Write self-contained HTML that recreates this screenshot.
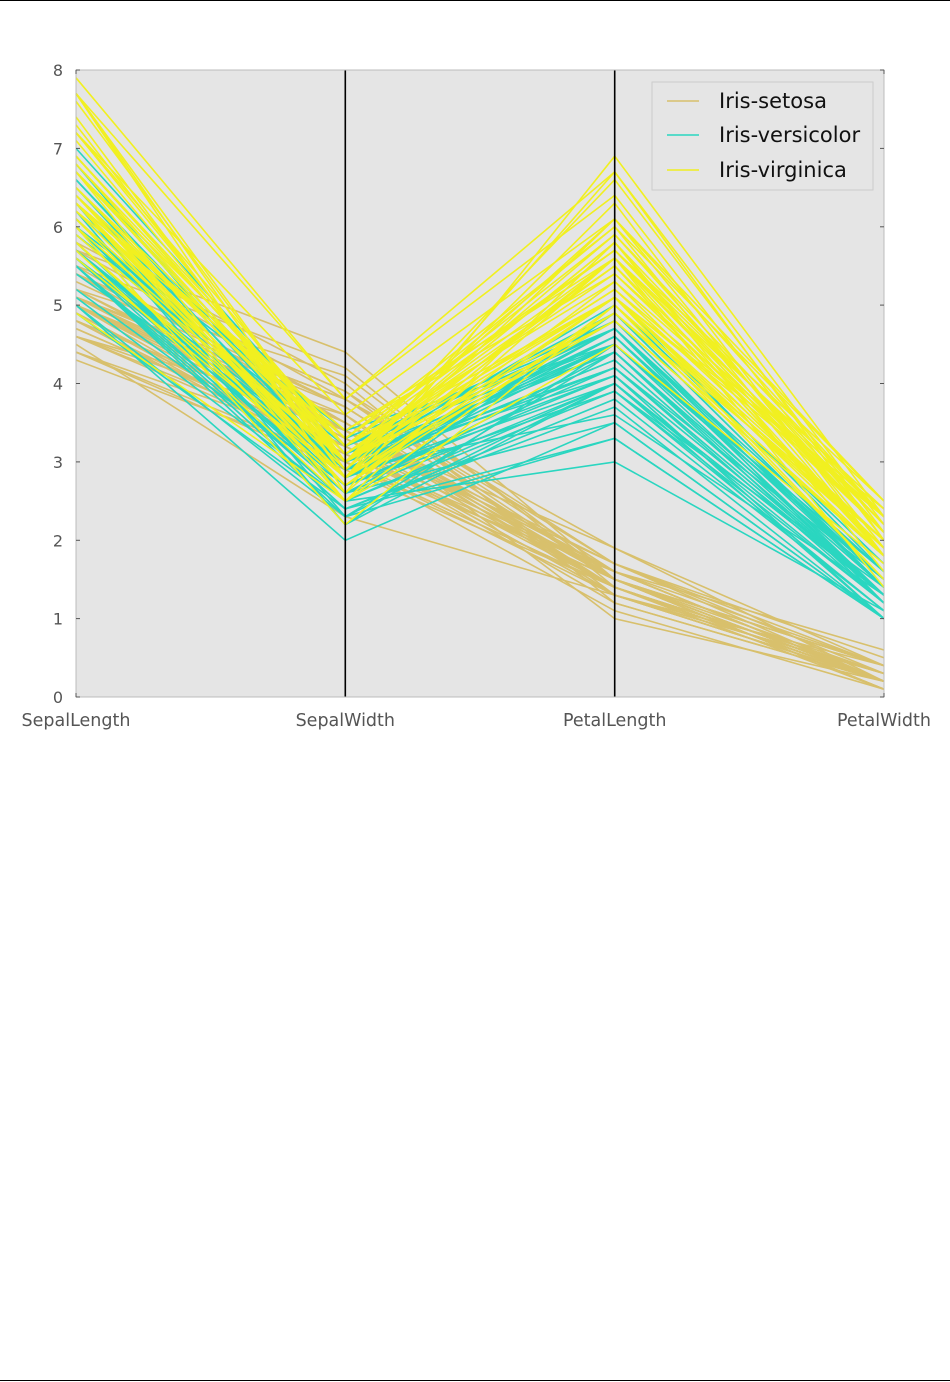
<!DOCTYPE html>
<html><head><meta charset="utf-8"><style>
html,body{margin:0;padding:0;background:#fff;}
svg{display:block;font-family:"DejaVu Sans","Liberation Sans",sans-serif;}
</style></head><body>
<svg id="s" width="950" height="1382" viewBox="0 0 950 1382" xmlns="http://www.w3.org/2000/svg">
<line x1="0" y1="0.5" x2="950" y2="0.5" stroke="#000" stroke-width="1"/>
<line x1="0" y1="1380.5" x2="950" y2="1380.5" stroke="#000" stroke-width="1"/>
<rect x="76" y="70" width="808" height="627" fill="#e5e5e5"/>
<g id="lines" fill="none" stroke-width="1.6"></g>
<line x1="345.3" y1="70" x2="345.3" y2="697" stroke="#000" stroke-width="1.6"/>
<line x1="614.7" y1="70" x2="614.7" y2="697" stroke="#000" stroke-width="1.6"/>
<rect x="76" y="70" width="808" height="627" fill="none" stroke="#bcbcbc" stroke-width="1"/>
<g stroke="#555" stroke-width="1">
<line x1="76" y1="697" x2="80" y2="697"/><line x1="884" y1="697" x2="880" y2="697"/>
<line x1="76" y1="618.6" x2="80" y2="618.6"/><line x1="884" y1="618.6" x2="880" y2="618.6"/>
<line x1="76" y1="540.3" x2="80" y2="540.3"/><line x1="884" y1="540.3" x2="880" y2="540.3"/>
<line x1="76" y1="461.9" x2="80" y2="461.9"/><line x1="884" y1="461.9" x2="880" y2="461.9"/>
<line x1="76" y1="383.5" x2="80" y2="383.5"/><line x1="884" y1="383.5" x2="880" y2="383.5"/>
<line x1="76" y1="305.1" x2="80" y2="305.1"/><line x1="884" y1="305.1" x2="880" y2="305.1"/>
<line x1="76" y1="226.8" x2="80" y2="226.8"/><line x1="884" y1="226.8" x2="880" y2="226.8"/>
<line x1="76" y1="148.4" x2="80" y2="148.4"/><line x1="884" y1="148.4" x2="880" y2="148.4"/>
<line x1="76" y1="70" x2="80" y2="70"/><line x1="884" y1="70" x2="880" y2="70"/>
<line x1="76" y1="697" x2="76" y2="693"/><line x1="884" y1="697" x2="884" y2="693"/>
<line x1="76" y1="70" x2="76" y2="74"/><line x1="884" y1="70" x2="884" y2="74"/>
</g>
<g fill="#555" font-size="16" text-anchor="end">
<text x="63" y="703">0</text><text x="63" y="624.6">1</text><text x="63" y="546.3">2</text>
<text x="63" y="467.9">3</text><text x="63" y="389.5">4</text><text x="63" y="311.1">5</text>
<text x="63" y="232.8">6</text><text x="63" y="154.4">7</text><text x="63" y="76">8</text>
</g>
<g fill="#555" font-size="17.5" text-anchor="middle">
<text x="76" y="726">SepalLength</text><text x="345.3" y="726">SepalWidth</text>
<text x="614.7" y="726">PetalLength</text><text x="884" y="726">PetalWidth</text>
</g>
<rect x="652" y="82" width="221" height="108" fill="#e5e5e5" stroke="#ccc" stroke-width="1"/>
<line x1="667" y1="101" x2="699" y2="101" stroke="#d8c06c" stroke-width="1.6"/>
<line x1="667" y1="135" x2="699" y2="135" stroke="#2ad6c0" stroke-width="1.6"/>
<line x1="667" y1="170" x2="699" y2="170" stroke="#f0ee20" stroke-width="1.6"/>
<g fill="#111" font-size="21">
<text x="719" y="108">Iris-setosa</text>
<text x="719" y="142">Iris-versicolor</text>
<text x="719" y="177">Iris-virginica</text>
</g>
</svg>
<script>
var S="5.1,3.5,1.4,0.2|4.9,3.0,1.4,0.2|4.7,3.2,1.3,0.2|4.6,3.1,1.5,0.2|5.0,3.6,1.4,0.2|5.4,3.9,1.7,0.4|4.6,3.4,1.4,0.3|5.0,3.4,1.5,0.2|4.4,2.9,1.4,0.2|4.9,3.1,1.5,0.1|5.4,3.7,1.5,0.2|4.8,3.4,1.6,0.2|4.8,3.0,1.4,0.1|4.3,3.0,1.1,0.1|5.8,4.0,1.2,0.2|5.7,4.4,1.5,0.4|5.4,3.9,1.3,0.4|5.1,3.5,1.4,0.3|5.7,3.8,1.7,0.3|5.1,3.8,1.5,0.3|5.4,3.4,1.7,0.2|5.1,3.7,1.5,0.4|4.6,3.6,1.0,0.2|5.1,3.3,1.7,0.5|4.8,3.4,1.9,0.2|5.0,3.0,1.6,0.2|5.0,3.4,1.6,0.4|5.2,3.5,1.5,0.2|5.2,3.4,1.4,0.2|4.7,3.2,1.6,0.2|4.8,3.1,1.6,0.2|5.4,3.4,1.5,0.4|5.2,4.1,1.5,0.1|5.5,4.2,1.4,0.2|4.9,3.1,1.5,0.1|5.0,3.2,1.2,0.2|5.5,3.5,1.3,0.2|4.9,3.1,1.5,0.1|4.4,3.0,1.3,0.2|5.1,3.4,1.5,0.2|5.0,3.5,1.3,0.3|4.5,2.3,1.3,0.3|4.4,3.2,1.3,0.2|5.0,3.5,1.6,0.6|5.1,3.8,1.9,0.4|4.8,3.0,1.4,0.3|5.1,3.8,1.6,0.2|4.6,3.2,1.4,0.2|5.3,3.7,1.5,0.2|5.0,3.3,1.4,0.2";
var V="7.0,3.2,4.7,1.4|6.4,3.2,4.5,1.5|6.9,3.1,4.9,1.5|5.5,2.3,4.0,1.3|6.5,2.8,4.6,1.5|5.7,2.8,4.5,1.3|6.3,3.3,4.7,1.6|4.9,2.4,3.3,1.0|6.6,2.9,4.6,1.3|5.2,2.7,3.9,1.4|5.0,2.0,3.5,1.0|5.9,3.0,4.2,1.5|6.0,2.2,4.0,1.0|6.1,2.9,4.7,1.4|5.6,2.9,3.6,1.3|6.7,3.1,4.4,1.4|5.6,3.0,4.5,1.5|5.8,2.7,4.1,1.0|6.2,2.2,4.5,1.5|5.6,2.5,3.9,1.1|5.9,3.2,4.8,1.8|6.1,2.8,4.0,1.3|6.3,2.5,4.9,1.5|6.1,2.8,4.7,1.2|6.4,2.9,4.3,1.3|6.6,3.0,4.4,1.4|6.8,2.8,4.8,1.4|6.7,3.0,5.0,1.7|6.0,2.9,4.5,1.5|5.7,2.6,3.5,1.0|5.5,2.4,3.8,1.1|5.5,2.4,3.7,1.0|5.8,2.7,3.9,1.2|6.0,2.7,5.1,1.6|5.4,3.0,4.5,1.5|6.0,3.4,4.5,1.6|6.7,3.1,4.7,1.5|6.3,2.3,4.4,1.3|5.6,3.0,4.1,1.3|5.5,2.5,4.0,1.3|5.5,2.6,4.4,1.2|6.1,3.0,4.6,1.4|5.8,2.6,4.0,1.2|5.0,2.3,3.3,1.0|5.6,2.7,4.2,1.3|5.7,3.0,4.2,1.2|5.7,2.9,4.2,1.3|6.2,2.9,4.3,1.3|5.1,2.5,3.0,1.1|5.7,2.8,4.1,1.3";
var G="6.3,3.3,6.0,2.5|5.8,2.7,5.1,1.9|7.1,3.0,5.9,2.1|6.3,2.9,5.6,1.8|6.5,3.0,5.8,2.2|7.6,3.0,6.6,2.1|4.9,2.5,4.5,1.7|7.3,2.9,6.3,1.8|6.7,2.5,5.8,1.8|7.2,3.6,6.1,2.5|6.5,3.2,5.1,2.0|6.4,2.7,5.3,1.9|6.8,3.0,5.5,2.1|5.7,2.5,5.0,2.0|5.8,2.8,5.1,2.4|6.4,3.2,5.3,2.3|6.5,3.0,5.5,1.8|7.7,3.8,6.7,2.2|7.7,2.6,6.9,2.3|6.0,2.2,5.0,1.5|6.9,3.2,5.7,2.3|5.6,2.8,4.9,2.0|7.7,2.8,6.7,2.0|6.3,2.7,4.9,1.8|6.7,3.3,5.7,2.1|7.2,3.2,6.0,1.8|6.2,2.8,4.8,1.8|6.1,3.0,4.9,1.8|6.4,2.8,5.6,2.1|7.2,3.0,5.8,1.6|7.4,2.8,6.1,1.9|7.9,3.8,6.4,2.0|6.4,2.8,5.6,2.2|6.3,2.8,5.1,1.5|6.1,2.6,5.6,1.4|7.7,3.0,6.1,2.3|6.3,3.4,5.6,2.4|6.4,3.1,5.5,1.8|6.0,3.0,4.8,1.8|6.9,3.1,5.4,2.1|6.7,3.1,5.6,2.4|6.9,3.1,5.1,2.3|5.8,2.7,5.1,1.9|6.8,3.2,5.9,2.3|6.7,3.3,5.7,2.5|6.7,3.0,5.2,2.3|6.3,2.5,5.0,1.9|6.5,3.0,5.2,2.0|6.2,3.4,5.4,2.3|5.9,3.0,5.1,1.8";
var xs=[76,345.3,614.7,884],g=document.getElementById("lines"),ns="http://www.w3.org/2000/svg";
[[S,"#d8c06c"],[V,"#2ad6c0"],[G,"#f1f020"]].forEach(function(p){
 p[0].split("|").forEach(function(r){
  var v=r.split(",").map(Number),pts=v.map(function(d,i){return xs[i]+","+(697-d*78.375).toFixed(1)}).join(" ");
  var e=document.createElementNS(ns,"polyline");e.setAttribute("points",pts);e.setAttribute("stroke",p[1]);g.appendChild(e);
 });
});
</script>
</body></html>
